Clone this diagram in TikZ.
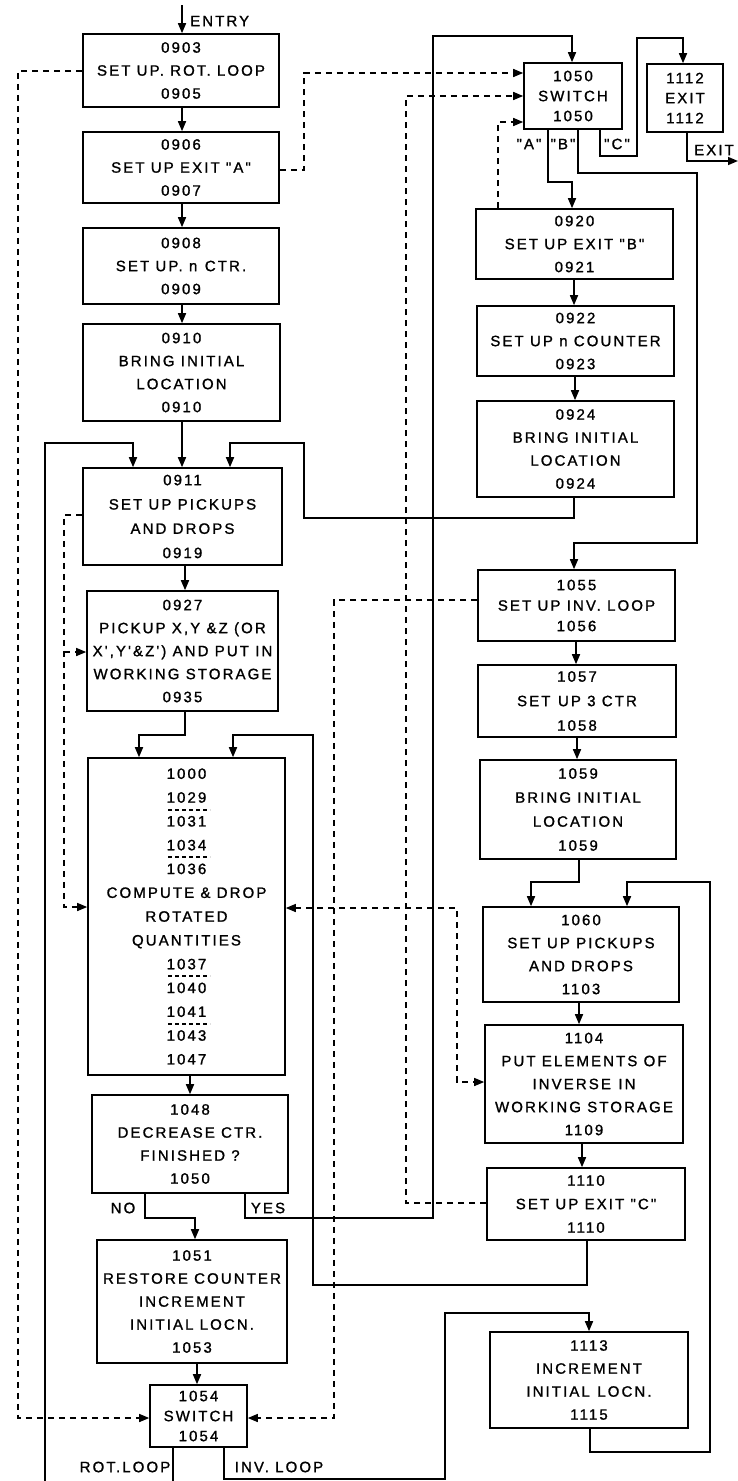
\documentclass[tikz,border=0pt]{standalone}
\usepackage{fontspec}
\newfontfamily\lf[LetterSpace=14,FakeBold=1.2]{Liberation Sans}
\usetikzlibrary{arrows.meta}
\begin{document}
\begin{tikzpicture}[x=1pt,y=-1pt,
 ln/.style={line width=1.6pt},
 arr/.style={ln,-{Triangle[length=10pt,width=8pt]}},
 dsh/.style={line width=1.4pt,dash pattern=on 6pt off 5pt},
 darr/.style={dsh,-{Triangle[length=10pt,width=8pt]}},
 box/.style={draw,line width=1.6pt,align=center,inner sep=0pt,font=\lf\fontsize{15}{23}\selectfont},
 sw/.style={box,font=\lf\fontsize{15}{20}\selectfont},
 lbl/.style={font=\lf\fontsize{15}{17}\selectfont,inner sep=0pt},
 rul/.style={line width=1.1pt,dash pattern=on 4pt off 3pt}]
\useasboundingbox (0,0) rectangle (738,1481);
\clip (0,0) rectangle (738,1481);
\fill[white] (0,0) rectangle (738,1481);

% ---------- left column boxes
\node[box,minimum width=196pt,minimum height=73pt] (b0903) at (181,70.5) {0903\\SET UP. ROT. LOOP\\0905};
\node[box,minimum width=196pt,minimum height=71pt] (b0906) at (181,167.5) {0906\\SET UP EXIT "A"\\0907};
\node[box,minimum width=196pt,minimum height=76pt] (b0908) at (181,266) {0908\\SET UP. n\enspace CTR.\\0909};
\node[box,minimum width=197pt,minimum height=97pt] (b0910) at (181.5,372.5) {0910\\BRING INITIAL\\LOCATION\\0910};
\node[box,minimum width=199pt,minimum height=97pt,font=\lf\fontsize{15}{24.3}\selectfont] (b0911) at (182.5,516.5) {0911\\SET UP PICKUPS\\AND DROPS\\0919};
\node[box,minimum width=191pt,minimum height=120pt] (b0927) at (182.5,651) {0927\\PICKUP X,Y \&Z (OR\\X',Y'\&Z') AND PUT IN\\WORKING STORAGE\\0935};
\node[box,minimum width=197pt,minimum height=317pt,font=\lf\fontsize{15}{23.8}\selectfont] (b1000) at (186.5,916.5) {1000\\1029\\1031\\1034\\1036\\COMPUTE \& DROP\\ROTATED\\QUANTITIES\\1037\\1040\\1041\\1043\\1047};
\node[box,minimum width=196pt,minimum height=98pt] (b1048) at (190,1144) {1048\\DECREASE CTR.\\FINISHED ?\\1050};
\node[box,minimum width=190pt,minimum height=123pt] (b1051) at (192,1301.5) {1051\\RESTORE COUNTER\\INCREMENT\\INITIAL LOCN.\\1053};
\node[sw,minimum width=97pt,minimum height=62pt] (s1054) at (198.5,1416) {1054\\SWITCH\\1054};

% ---------- right column boxes
\node[sw,minimum width=98pt,minimum height=66pt] (s1050) at (573,96) {1050\\SWITCH\\1050};
\node[sw,minimum width=76pt,minimum height=68pt] (b1112) at (685,98) {1112\\EXIT\\1112};
\node[box,minimum width=197pt,minimum height=70pt] (b0920) at (574.5,244) {0920\\SET UP EXIT "B"\\0921};
\node[box,minimum width=197pt,minimum height=70pt] (b0922) at (575.5,341) {0922\\SET UP n COUNTER\\0923};
\node[box,minimum width=197pt,minimum height=96pt] (b0924) at (575.5,449) {0924\\BRING INITIAL\\LOCATION\\0924};
\node[box,minimum width=197pt,minimum height=71pt,font=\lf\fontsize{15}{20.5}\selectfont] (b1055) at (576.5,605.5) {1055\\SET UP INV. LOOP\\1056};
\node[box,minimum width=198pt,minimum height=72pt,font=\lf\fontsize{15}{24.5}\selectfont] (b1057) at (577,701) {1057\\SET\enspace UP 3 CTR\\1058};
\node[box,minimum width=196pt,minimum height=99pt,font=\lf\fontsize{15}{24}\selectfont] (b1059) at (578,809.5) {1059\\BRING INITIAL\\LOCATION\\1059};
\node[box,minimum width=196pt,minimum height=95pt] (b1060) at (581,954.5) {1060\\SET UP PICKUPS\\AND DROPS\\1103};
\node[box,minimum width=198pt,minimum height=118pt] (b1104) at (584,1084) {1104\\PUT ELEMENTS OF\\INVERSE\enspace IN\\WORKING STORAGE\\1109};
\node[box,minimum width=198pt,minimum height=72pt,font=\lf\fontsize{15}{23.5}\selectfont] (b1110) at (586,1204) {1110\\SET UP EXIT "C"\\1110};
\node[box,minimum width=198pt,minimum height=96pt] (b1113) at (589,1380) {1113\\INCREMENT\\INITIAL\enspace LOCN.\\1115};

% dashed rules inside 1000 box
\draw[rul] (168,810) -- (210,810);
\draw[rul] (168,857) -- (210,857);
\draw[rul] (168,976) -- (210,976);
\draw[rul] (168,1024) -- (210,1024);

% ---------- labels
\coordinate (entry) at (182,5);
\node[lbl,anchor=west] (tentry) at (190,21) {ENTRY};
\node[lbl] (la) at (529,144) {"A"};
\node[lbl] (lb) at (563,144) {"B"};
\node[lbl] (lc) at (617,144) {"C"};
\node[lbl] (lexit) at (714,150) {EXIT};
\node[lbl] (lno) at (123,1208) {NO};
\node[lbl] (lyes) at (268,1208) {YES};
\node[lbl] (lrot) at (125,1467) {ROT.LOOP};
\node[lbl] (linv) at (279,1467) {INV. LOOP};

% ---------- solid connectors, left column
\draw[arr] (entry) -- (entry |- b0903.north);
\draw[arr] (182,0 |- b0903.south) -- (182,0 |- b0906.north);
\draw[arr] (182,0 |- b0906.south) -- (182,0 |- b0908.north);
\draw[arr] (182,0 |- b0908.south) -- (182,0 |- b0910.north);
\draw[arr] (182,0 |- b0910.south) -- (182,0 |- b0911.north);
\draw[arr] (185,0 |- b0911.south) -- (185,0 |- b0927.north);
\draw[arr] (185,0 |- b0927.south) -- (185,735) -- (139,735) -- (139,0 |- b1000.north);
\draw[arr] (190,0 |- b1000.south) -- (190,0 |- b1048.north);
\draw[arr] (145,0 |- b1048.south) -- (145,1218) -- (195,1218) -- (195,0 |- b1051.north);
\draw[arr] (197,0 |- b1051.south) -- (197,0 |- s1054.north);
\draw[arr] (245,0 |- b1048.south) -- (245,1218) -- (433,1218) -- (433,36) -- (572,36) -- (572,0 |- s1050.north);
\draw[arr] (173,0 |- s1054.south) -- (173,1495) -- (45,1495) -- (45,443) -- (133,443) -- (133,0 |- b0911.north);
\draw[arr] (224,0 |- s1054.south) -- (224,1479) -- (445,1479) -- (445,1313) -- (589,1313) -- (589,0 |- b1113.north);

% ---------- solid connectors, right column
\draw[arr] (548,0 |- s1050.south) -- (548,182) -- (572,182) -- (572,0 |- b0920.north);
\draw[arr] (578,0 |- s1050.south) -- (578,173) -- (697,173) -- (697,543) -- (574,543) -- (574,0 |- b1055.north);
\draw[arr] (600,0 |- s1050.south) -- (600,156) -- (637,156) -- (637,38) -- (683,38) -- (683,0 |- b1112.north);
\coordinate (exitend) at (738,161);
\draw[arr] (687,0 |- b1112.south) -- (687,161) -- (exitend);
\draw[arr] (574,0 |- b0920.south) -- (574,0 |- b0922.north);
\draw[arr] (575,0 |- b0922.south) -- (575,0 |- b0924.north);
\draw[arr] (574,0 |- b0924.south) -- (574,518) -- (304,518) -- (304,443) -- (230,443) -- (230,0 |- b0911.north);
\draw[arr] (576,0 |- b1055.south) -- (576,0 |- b1057.north);
\draw[arr] (577,0 |- b1057.south) -- (577,0 |- b1059.north);
\draw[arr] (579,0 |- b1059.south) -- (579,882) -- (531,882) -- (531,0 |- b1060.north);
\draw[arr] (579,0 |- b1060.south) -- (579,0 |- b1104.north);
\draw[arr] (582,0 |- b1104.south) -- (582,0 |- b1110.north);
\draw[arr] (587,0 |- b1110.south) -- (587,1285) -- (313,1285) -- (313,735) -- (233,735) -- (233,0 |- b1000.north);
\draw[arr] (590,0 |- b1113.south) -- (590,1452) -- (710,1452) -- (710,882) -- (627,882) -- (627,0 |- b1060.north);

% ---------- dashed connectors
\draw[darr] (b0903.west |- 0,71) -- (18,71) -- (18,1418) -- (s1054.west |- 0,1418);
\draw[darr] (b0906.east |- 0,170) -- (304,170) -- (304,73) -- (s1050.west |- 0,73);
\draw[darr] (498,0 |- b0920.north) -- (498,122) -- (s1050.west |- 0,122);
\draw[darr] (b1110.west |- 0,1203) -- (406,1203) -- (406,96) -- (s1050.west |- 0,96);
\draw[darr] (b1055.west |- 0,600) -- (334,600) -- (334,1418) -- (s1054.east |- 0,1418);
\draw[darr] (b0911.west |- 0,515) -- (64,515) -- (64,907) -- (b1000.west |- 0,907);
\draw[darr] (64,652) -- (b0927.west |- 0,652);
\draw[dsh,{Triangle[length=10pt,width=8pt]}-{Triangle[length=10pt,width=8pt]}] (b1000.east |- 0,908) -- (457,908) -- (457,1082) -- (b1104.west |- 0,1082);
\end{tikzpicture}
\end{document}
